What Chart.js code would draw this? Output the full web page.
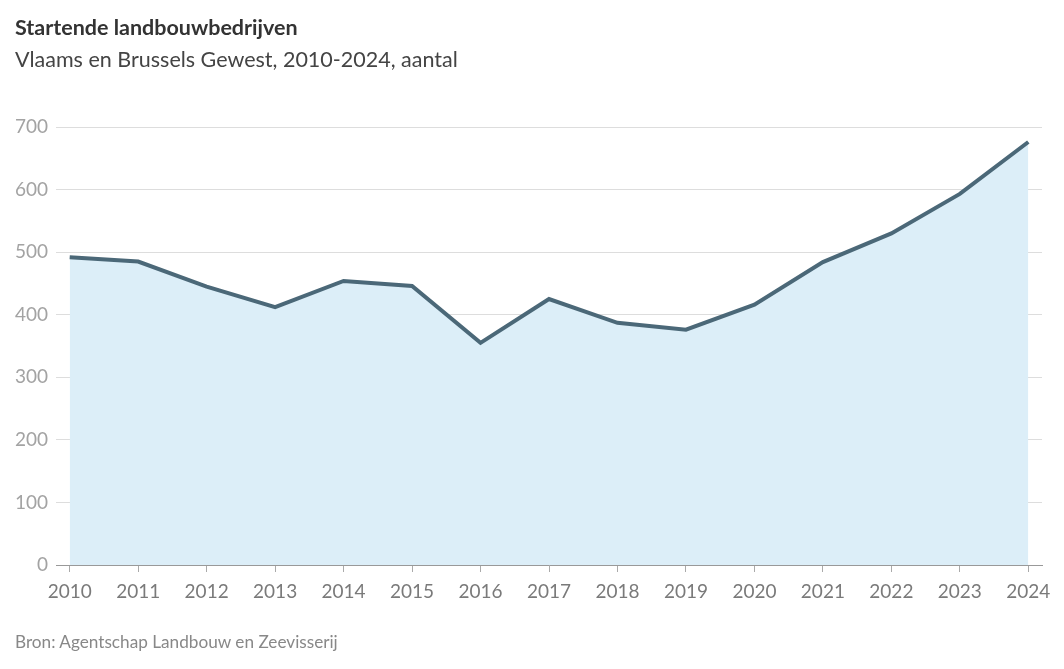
<!DOCTYPE html>
<html>
<head>
<meta charset="utf-8">
<script src="https://cdn.jsdelivr.net/npm/chart.js@4"></script>
<style>
  html, body { margin:0; padding:0; background:#fff; }
  body { width:1064px; height:669px; position:relative; overflow:hidden; font-family: Lato, "Open Sans", sans-serif; }
  #wrap { position:absolute; left:0; top:0; width:1064px; height:669px; }
  .t { position:absolute; left:15px; white-space:nowrap; line-height:1.2; }
  #title { top:15px; font-size:21.5px; font-weight:700; color:#333; }
  #sub { top:47px; font-size:21.5px; color:#444; }
  #src { top:632px; font-size:17.2px; color:#888; }
</style>
</head>
<body>
<div id="wrap"><canvas id="c" width="1064" height="669"></canvas></div>
<div class="t" id="title">Startende landbouwbedrijven</div>
<div class="t" id="sub">Vlaams en Brussels Gewest, 2010-2024, aantal</div>
<div class="t" id="src">Bron: Agentschap Landbouw en Zeevisserij</div>
<script>
const years = [2010,2011,2012,2013,2014,2015,2016,2017,2018,2019,2020,2021,2022,2023,2024];
const values = [492,485,445,412,454,446,355,425,387,376,416,484,530,593,676];
const yTicks = [0,100,200,300,400,500,600,700];

const points = years.map((y,i)=>({x:y, y:values[i]}));

new Chart(document.getElementById('c'), {
  type: 'line',
  data: {
    datasets: [{
      data: points,
      borderColor: '#4b6878',
      borderWidth: 4,
      backgroundColor: '#dceef8',
      fill: 'origin',
      pointRadius: 0,
      tension: 0
    }]
  },
  options: {
    responsive: false,
    animation: false,
    devicePixelRatio: 1,
    layout: { padding: { left: 0, top: 127, right: 22, bottom: 0 } },
    plugins: { legend: { display:false }, tooltip: { enabled:false } },
    scales: {
      x: {
        type: 'linear',
        min: 2009.8,
        max: 2024.2,
        afterFit: s => { s.height = 104; },
        afterBuildTicks: s => { s.ticks = years.map(v=>({value:v})); },
        ticks: {
          stepSize: 1,
          includeBounds: false,
          padding: 8,
          color: '#7a7a7a',
          font: { family: 'Lato', size: 19 },
          maxRotation: 0,
          callback: v => String(v)
        },
        grid: { drawOnChartArea:false, drawTicks:true, tickLength:7, color:'#aaa', lineWidth:1 },
        border: { display:true, color:'#999', width:1 }
      },
      y: {
        min: 0,
        max: 700,
        afterFit: s => { s.width = 56; },
        afterBuildTicks: s => { s.ticks = yTicks.map(v=>({value:v})); },
        ticks: {
          padding: 8,
          color: '#a3a3a3',
          font: { family: 'Lato', size: 19 },
          callback: v => String(v)
        },
        grid: { drawTicks:false, color:'#dddddd', lineWidth:1 },
        border: { display:false }
      }
    }
  }
});
</script>
</body>
</html>
